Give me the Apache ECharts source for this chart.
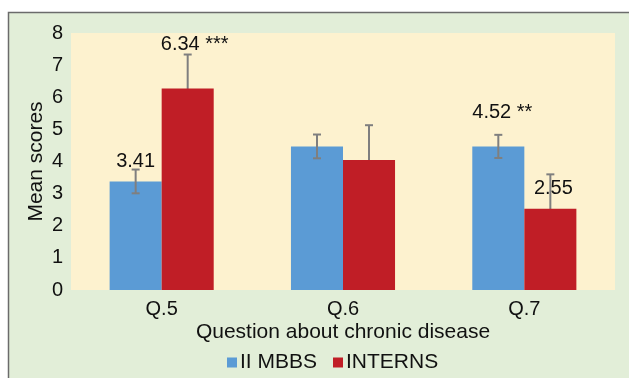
<!DOCTYPE html>
<html>
<head>
<meta charset="utf-8">
<script src="https://cdn.jsdelivr.net/npm/echarts@6/dist/echarts.min.js"></script>
<style>html,body{margin:0;padding:0;background:#fff;}#c{width:629px;height:378px;}</style>
</head>
<body>
<div id="c"></div>
<script>
var categories = ['Q.5', 'Q.6', 'Q.7'];
var seriesNames = ['II MBBS', 'INTERNS'];
var mbbsValues = [3.38, 4.47, 4.47];
var mbbsErrors = [0.37, 0.37, 0.36];
var internValues = [6.27, 4.05, 2.53];
var internErrors = [1.06, 1.08, 1.07];
var mbbsLabels = ['3.41', '', '4.52 **'];
var internLabels = ['6.34 ***', '', '2.55'];
var yTicks = [0, 1, 2, 3, 4, 5, 6, 7, 8];

var FONT = 'Liberation Sans, Arial, sans-serif';
var BAR_FRAC = 0.287;

function barData(values, labels, offsets, dists) {
  return values.map(function (v, i) {
    return {
      value: v,
      label: {
        show: labels[i] !== '',
        formatter: labels[i],
        offset: offsets[i],
        distance: dists[i]
      }
    };
  });
}

function errData(values, errors) {
  return values.map(function (v, i) { return [i, v, errors[i]]; });
}

function errorRender(side) {
  return function (params, api) {
    var idx = api.value(0);
    var v = api.value(1), e = api.value(2);
    var band = api.size([1, 0])[0];
    var bw = band * BAR_FRAC;
    var c = api.coord([idx, v]);
    var x = c[0] + side * bw / 2;
    var yTop = api.coord([idx, v + e])[1];
    var yBot = api.coord([idx, v - e])[1];
    var cap = 4;
    var st = { stroke: '#7f7f7f', lineWidth: 2 };
    return {
      type: 'group',
      children: [
        { type: 'line', shape: { x1: x, y1: yTop, x2: x, y2: yBot }, style: st },
        { type: 'line', shape: { x1: x - cap, y1: yTop, x2: x + cap, y2: yTop }, style: st },
        { type: 'line', shape: { x1: x - cap, y1: yBot, x2: x + cap, y2: yBot }, style: st }
      ]
    };
  };
}

var chart = echarts.init(document.getElementById('c'), null, { renderer: 'canvas' });
chart.setOption({
  backgroundColor: '#ffffff',
  animation: false,
  textStyle: { fontFamily: FONT },
  graphic: [{
    type: 'rect',
    z: -10,
    shape: { x: 8.5, y: 12.5, width: 640, height: 400 },
    style: { fill: '#e2eed8', stroke: '#6b6b6b', lineWidth: 1.5 }
  }],
  grid: {
    left: 71, right: 14, top: 33, bottom: 88,
    show: true, backgroundColor: '#fdf2cf', borderWidth: 0
  },
  legend: {
    data: seriesNames,
    bottom: 0,
    left: 222,
    icon: 'rect',
    itemWidth: 10, itemHeight: 10, itemGap: 16,
    textStyle: { fontSize: 21, color: '#111', fontFamily: FONT, padding: [0, 0, 0, -2] }
  },
  xAxis: {
    type: 'category',
    data: categories,
    name: 'Question about chronic disease',
    nameLocation: 'middle',
    nameGap: 32,
    nameMoveOverlap: false,
    nameTextStyle: { fontSize: 21, color: '#111', fontFamily: FONT },
    axisLine: { show: false },
    axisTick: { show: false },
    axisLabel: { fontSize: 20, color: '#111', margin: 9, fontFamily: FONT }
  },
  yAxis: {
    type: 'value',
    min: yTicks[0], max: yTicks[yTicks.length - 1], interval: 1,
    name: 'Mean scores',
    nameLocation: 'middle',
    nameGap: 24,
    nameMoveOverlap: false,
    nameTextStyle: { fontSize: 21, color: '#111', fontFamily: FONT },
    axisLine: { show: false },
    axisTick: { show: false },
    splitLine: { show: false },
    axisLabel: { fontSize: 20, color: '#111', margin: 8, fontFamily: FONT }
  },
  series: [
    {
      name: seriesNames[0], type: 'bar', z: 3,
      barWidth: (BAR_FRAC * 100) + '%', barGap: '0%',
      itemStyle: { color: '#5b9bd5' },
      label: { position: 'top', fontSize: 20, color: '#111', fontFamily: FONT },
      data: barData(mbbsValues, mbbsLabels, [[0, 0], [0, 0], [4, 0]], [10, 0, 24])
    },
    {
      name: seriesNames[1], type: 'bar', z: 3,
      barWidth: (BAR_FRAC * 100) + '%', barGap: '0%',
      itemStyle: { color: '#c01e26' },
      label: { position: 'top', fontSize: 20, color: '#111', fontFamily: FONT },
      data: barData(internValues, internLabels, [[7, 0], [0, 0], [3, 0]], [34, 0, 10])
    },
    {
      type: 'custom', name: 'err1', z: 5,
      renderItem: errorRender(-1),
      data: errData(mbbsValues, mbbsErrors),
      silent: true
    },
    {
      type: 'custom', name: 'err2', z: 2,
      renderItem: errorRender(1),
      data: errData(internValues, internErrors),
      silent: true
    }
  ]
});
</script>
</body>
</html>
